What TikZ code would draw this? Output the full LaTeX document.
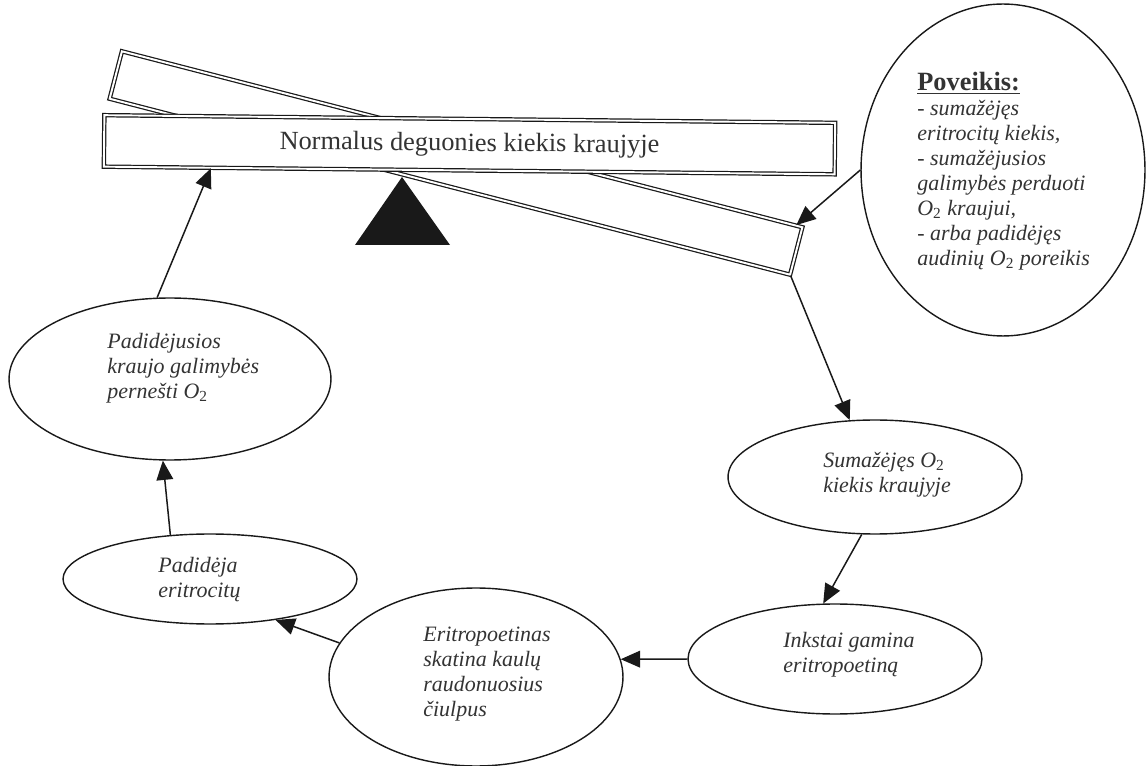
\documentclass[tikz,border=0pt]{standalone}
\usepackage{fontspec}
\setmainfont{Liberation Serif}
\usepackage{tikz}
\usetikzlibrary{shapes.geometric,arrows.meta,calc}

\newcommand{\Otwo}{O\textsubscript{\upshape 2}}

\begin{document}
\begin{tikzpicture}[
			x=0.02cm, y=-0.02cm,
			% Define the styles for the planks, bubbles and arrows
			plank/.style={rectangle, draw=black!90, double=white, line width=0.7pt, double distance=1.1pt, fill=white, inner sep=0pt},
			bubble/.style={ellipse, draw=black!90, line width=0.8pt, inner sep=0pt},
			txt/.style={anchor=north west, align=left, inner sep=0pt, text=black!80, font=\fontsize{12.5}{14.2}\selectfont\itshape},
			arr/.style={draw=black!90, line width=0.85pt, -{Triangle[length=11pt, width=9.5pt]}}
			]

			\useasboundingbox (0,0) rectangle (1146,766);

			% the scale
			\node (tilt) at (456,163) [plank, rotate=-14.5, minimum width=14.06cm, minimum height=0.98cm] {};
			\fill[black!90] (355,245) -- (450,245) -- (402,177) -- cycle;
			\node (hplank) at (469.5,144.75) [plank, rotate=-0.6, minimum width=14.62cm, minimum height=1.03cm, text=black!80, font=\fontsize{15}{17}\selectfont] {Normalus deguonies kiekis kraujyje};

			% the bubbles
			\node (padj) at (170,379) [bubble, minimum width=6.44cm, minimum height=3.24cm] {};
			\node (pad) at (210,579) [bubble, minimum width=5.88cm, minimum height=1.8cm] {};
			\node (erit) at (476,677) [bubble, minimum width=5.88cm, minimum height=3.56cm] {};
			\node (inks) at (835,659) [bubble, minimum width=5.88cm, minimum height=2.2cm] {};
			\node (sum) at (875,477) [bubble, minimum width=5.88cm, minimum height=2.28cm] {};
			\node (pov) at (1003,170) [bubble, minimum width=5.68cm, minimum height=6.64cm] {};

			\node (padjt) at (107,333) [txt] {Padidėjusios\\kraujo galimybės\\pernešti \Otwo};
			\node (padt) at (158,557) [txt] {Padidėja\\eritrocitų};
			\node (eritt) at (423,627) [txt] {Eritropoetinas\\skatina kaulų\\raudonuosius\\čiulpus};
			\node (inkst) at (783,632) [txt] {Inkstai gamina\\eritropoetiną};
			\node (sumt) at (823,452) [txt] {Sumažėjęs \Otwo\\kiekis kraujyje};
			\node (povt) at (917,72) [txt] {{\fontsize{15}{17}\selectfont\upshape\bfseries\underline{Poveikis:}}\\
				- sumažėjęs\\eritrocitų kiekis,\\- sumažėjusios\\galimybės perduoti\\\Otwo{} kraujui,\\- arba padidėjęs\\audinių \Otwo{} poreikis};

			\draw[arr] (padj.99) -- ($(hplank.south west)!0.147!(hplank.south east)$);
			\draw[arr] (pad.132) -- (padj.265);
			\draw[arr] (erit.166) -- (pad.-32);
			\draw[arr] (inks.west) -- (erit.7);
			\draw[arr] (sum.257) -- (inks.102);
			\draw[arr] (tilt.south east) -- (sum.114);
			\draw[arr] (pov.west) -- ($(tilt.north east)!0.01!(tilt.north west)$);

		\end{tikzpicture}
\end{document}
